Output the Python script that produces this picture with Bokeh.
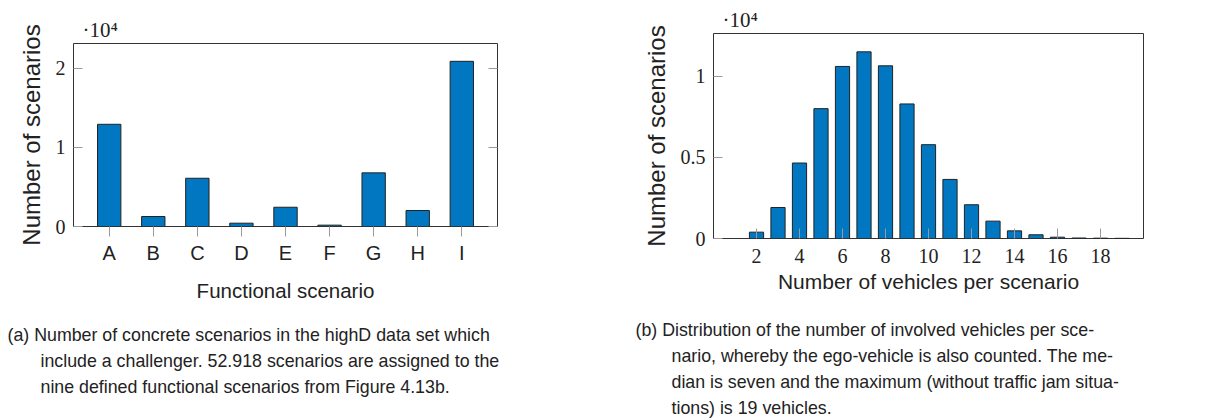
from bokeh.plotting import figure
from bokeh.models import Range1d, FixedTicker, LinearAxis, Title
from bokeh.layouts import row, column
from bokeh.embed import file_html
from bokeh.resources import INLINE

# ---------------- data ----------------
func_categories = ["A", "B", "C", "D", "E", "F", "G", "H", "I"]
func_counts = [12900, 1260, 6090, 420, 2430, 170, 6770, 2020, 20850]

vehicles = [2, 3, 4, 5, 6, 7, 8, 9, 10, 11, 12, 13, 14, 15, 16, 17, 18, 19]
vehicle_counts = [390, 1910, 4650, 8000, 10600, 11500, 10640, 8290, 5780,
                  3640, 2080, 1070, 470, 230, 80, 30, 20, 10]

a_yticks = [0, 10000, 20000]
a_ylabels = ["0", "1", "2"]
b_xticks = [2, 4, 6, 8, 10, 12, 14, 16, 18]
b_yticks = [0, 5000, 10000]
b_ylabels = ["0", "0.5", "1"]

caption_a = ["(a) Number of concrete scenarios in the highD data set which",
             "include a challenger. 52.918 scenarios are assigned to the",
             "nine defined functional scenarios from Figure 4.13b."]
caption_b = ["(b) Distribution of the number of involved vehicles per sce-",
             "nario, whereby the ego-vehicle is also counted. The me-",
             "dian is seven and the maximum (without traffic jam situa-",
             "tions) is 19 vehicles."]

SANS = "Liberation Sans"
SERIF = "Liberation Serif"
BAR = "#0077c0"
TXT = "#222222"
TICK = "#9a9a9a"
FRAME = "#333333"


def style_common(p):
    p.grid.grid_line_color = None
    p.outline_line_color = FRAME
    p.outline_line_width = 1
    p.background_fill_color = "white"
    p.border_fill_color = "white"
    p.title.text_font = SERIF
    p.title.text_font_style = "normal"
    p.title.text_font_size = "21px"
    p.title.text_color = TXT
    p.title.align = "left"
    p.title.offset = 9
    p.title.standoff = 3
    for ax in p.axis:
        ax.axis_line_color = None
        ax.major_tick_line_color = TICK
        ax.minor_tick_line_color = None
        ax.major_label_text_color = TXT
        ax.axis_label_text_color = TXT
        ax.axis_label_text_font = SANS
        ax.axis_label_text_font_style = "normal"


def add_caption(p, lines, first_dx, rest_dx, first_pad):
    for i, line in enumerate(lines):
        kw = dict(text=line, align="left",
                  offset=first_dx if i == 0 else rest_dx,
                  text_font=SANS, text_font_size="17.8px",
                  text_font_style="normal", text_color=TXT, standoff=4)
        if i == 0:
            try:
                t = Title(padding=dict(left=0, right=0, top=first_pad, bottom=0), **kw)
            except Exception:
                t = Title(**kw)
        else:
            t = Title(**kw)
        p.add_layout(t, "below")


# ---------------- panel (a) ----------------
xa = list(range(len(func_categories)))
pa = figure(width=620, height=420,
            min_border_left=73, min_border_right=123,
            min_border_top=43, min_border_bottom=194,
            x_range=Range1d(-0.81, 8.81), y_range=Range1d(0, 23100),
            toolbar_location=None, output_backend="svg", title="·10⁴")
pa.vbar(x=xa, top=func_counts, width=0.53, bottom=0,
        fill_color=BAR, line_color="#222222", line_width=1)
pa.add_layout(LinearAxis(), "right")
style_common(pa)

pa.xaxis.ticker = FixedTicker(ticks=xa)
pa.xaxis.major_label_overrides = {i: c for i, c in zip(xa, func_categories)}
pa.xaxis.major_tick_out = 10
pa.xaxis.major_tick_in = 0
pa.xaxis.major_label_standoff = 5
pa.xaxis.major_label_text_font = SANS
pa.xaxis.major_label_text_font_size = "20px"
pa.xaxis.axis_label = "Functional scenario"
pa.xaxis.axis_label_text_font_size = "20.5px"
pa.xaxis.axis_label_standoff = 12

for ax in pa.yaxis:
    ax.ticker = FixedTicker(ticks=a_yticks)
    ax.major_tick_in = 9
    ax.major_tick_out = 0
pa.yaxis[0].major_label_overrides = {t: l for t, l in zip(a_yticks, a_ylabels)}
pa.yaxis[0].major_label_standoff = 8
pa.yaxis[0].major_label_text_font = SERIF
pa.yaxis[0].major_label_text_font_size = "20px"
pa.yaxis[0].axis_label = "Number of scenarios"
pa.yaxis[0].axis_label_text_font_size = "24px"
pa.yaxis[0].axis_label_standoff = 8
pa.yaxis[1].major_label_overrides = {t: "" for t in a_yticks}
pa.yaxis[1].major_label_standoff = 0

add_caption(pa, caption_a, -66, -33, 16)

# ---------------- panel (b) ----------------
pb = figure(width=611, height=420,
            min_border_left=93, min_border_right=88,
            min_border_top=33, min_border_bottom=182,
            x_range=Range1d(0, 20), y_range=Range1d(0, 12630),
            toolbar_location=None, output_backend="svg", title="·10⁴")
pb.vbar(x=vehicles, top=vehicle_counts, width=0.66, bottom=0,
        fill_color=BAR, line_color="#222222", line_width=1)
style_common(pb)

pb.xaxis.ticker = FixedTicker(ticks=b_xticks)
pb.xaxis.major_tick_in = 10
pb.xaxis.major_tick_out = 0
pb.xaxis.major_label_standoff = 10
pb.xaxis.major_label_text_font = SERIF
pb.xaxis.major_label_text_font_size = "20px"
pb.xaxis.axis_label = "Number of vehicles per scenario"
pb.xaxis.axis_label_text_font_size = "21px"
pb.xaxis.axis_label_standoff = 4

pb.yaxis.ticker = FixedTicker(ticks=b_yticks)
pb.yaxis.major_label_overrides = {t: l for t, l in zip(b_yticks, b_ylabels)}
pb.yaxis.major_tick_in = 9
pb.yaxis.major_tick_out = 0
pb.yaxis.major_label_standoff = 8
pb.yaxis.major_label_text_font = SERIF
pb.yaxis.major_label_text_font_size = "20px"
pb.yaxis.axis_label = "Number of scenarios"
pb.yaxis.axis_label_text_font_size = "24px"
pb.yaxis.axis_label_standoff = 8

add_caption(pb, caption_b, -78, -42, 20)

layout = row(column(pa), column(pb))

open("out.html", "w").write(file_html(layout, INLINE))
